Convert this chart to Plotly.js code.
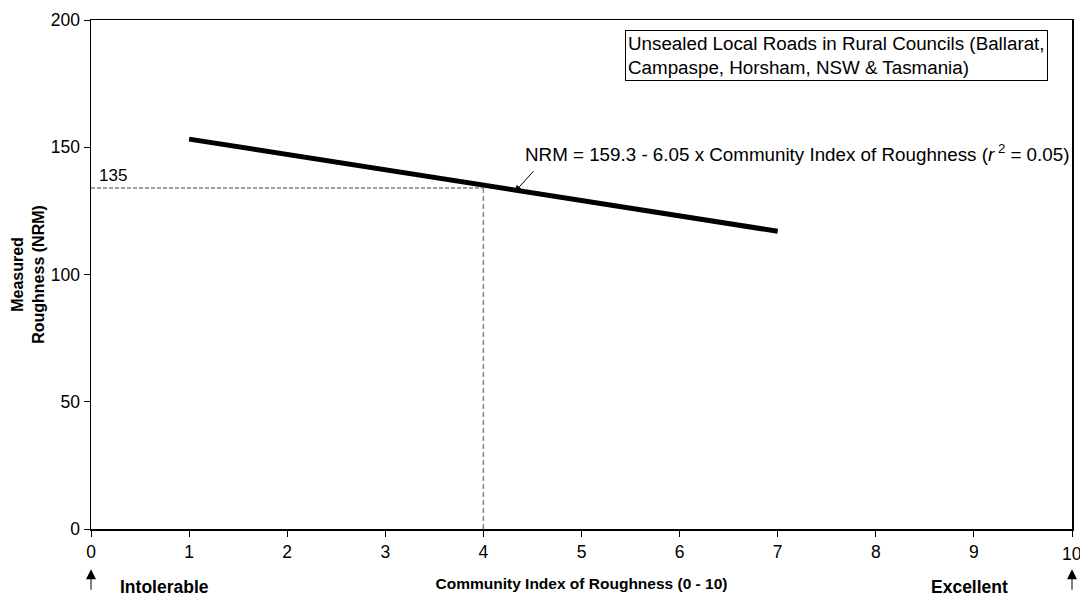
<!DOCTYPE html>
<html>
<head>
<meta charset="utf-8">
<script src="https://cdn.plot.ly/plotly-3.0.1.min.js"></script>
<style>
html,body{margin:0;padding:0;background:#fff;}
#chart{width:1080px;height:597px;}
</style>
</head>
<body>
<div id="chart"></div>
<script>
// Regression line endpoints (Community Index vs Measured Roughness)
const lineX = [1, 7];
const lineY = [153.2, 117.0];

// Reference point read-off
const refX = 4;
const refY = 134;
const refLabel = "135";

// Axis ticks
const xTicks = [0,1,2,3,4,5,6,7,8,9];
const xLastTick = 10;
const yTicks = [0,50,100,150,200];

const eqText = "NRM = 159.3 - 6.05 x Community Index of Roughness (<i>r</i><sup> 2</sup> = 0.05)";
const boxText = "Unsealed Local Roads in Rural Councils (Ballarat,<br>Campaspe, Horsham, NSW &amp; Tasmania)";

const FONT = "Liberation Sans, Arial, sans-serif";

const traces = [{
  x: lineX, y: lineY, type: 'scatter', mode: 'lines',
  line: {color: '#000', width: 5}, hoverinfo: 'skip', showlegend: false
}];

const layout = {
  width: 1080, height: 597,
  margin: {l: 91, r: 8, t: 20, b: 68},
  paper_bgcolor: '#fff', plot_bgcolor: '#fff',
  font: {family: FONT, size: 17, color: '#000'},
  showlegend: false,
  xaxis: {
    range: [0, 10], tickvals: xTicks.concat([xLastTick]), ticktext: xTicks.map(String).concat(['']),
    ticks: 'outside', ticklen: 6, tickwidth: 1, tickcolor: '#000',
    showline: true, linecolor: '#000', linewidth: 1.5, mirror: true,
    showgrid: false, zeroline: false,
    tickfont: {family: FONT, size: 17.5, color: '#000'},
    title: {text: 'Community Index of Roughness (0 - 10)', font: {family: FONT, size: 15.5, color: '#000', weight: 'bold'}, standoff: 17}
  },
  yaxis: {
    range: [0, 200], tickvals: yTicks, ticktext: yTicks.map(String),
    ticks: 'outside', ticklen: 6, tickwidth: 1, tickcolor: '#000',
    showline: true, linecolor: '#000', linewidth: 1.5, mirror: true,
    showgrid: false, zeroline: false,
    tickfont: {family: FONT, size: 17.5, color: '#000'},
    title: {text: 'Measured<br>Roughness (NRM)', font: {family: FONT, size: 16, color: '#000', weight: 'bold'}, standoff: 2}
  },
  shapes: [
    {type: 'line', xref: 'x', yref: 'y', x0: 0, x1: refX, y0: refY, y1: refY,
     line: {color: '#444', width: 1, dash: '4px,2px'}},
    {type: 'line', xref: 'x', yref: 'y', x0: refX, x1: refX, y0: 0, y1: refY,
     line: {color: '#888', width: 1.5, dash: '5px,3px'}}
  ],
  annotations: [
    {xref: 'x', yref: 'y', x: 0.06, y: refY + 0.5, xanchor: 'left', yanchor: 'bottom',
     text: refLabel, showarrow: false, font: {family: FONT, size: 17}},
    {xref: 'x', yref: 'y', x: 4.32, y: 132.5, text: '', showarrow: true,
     ax: 20, ay: -22, arrowhead: 2, arrowsize: 1.3, arrowwidth: 1, arrowcolor: '#000'},
    {xref: 'paper', yref: 'paper', x: 0.44, y: 0.738, xanchor: 'left', yanchor: 'middle',
     text: eqText, showarrow: false, font: {family: FONT, size: 18.8}},
    {xref: 'paper', yref: 'paper', x: 0.544, y: 0.98, xanchor: 'left', yanchor: 'top',
     text: boxText, align: 'left', showarrow: false, font: {family: FONT, size: 18.8},
     bordercolor: '#000', borderwidth: 1, borderpad: 2, bgcolor: '#fff'},
    {xref: 'x', yref: 'paper', x: xLastTick, y: -0.025, xanchor: 'center', yanchor: 'top',
     text: String(xLastTick), showarrow: false, font: {family: FONT, size: 17.5}},
    {xref: 'paper', yref: 'paper', x: 0.075, y: -0.113, xanchor: 'center', yanchor: 'middle',
     text: '<b>Intolerable</b>', showarrow: false, font: {family: FONT, size: 17.5}},
    {xref: 'paper', yref: 'paper', x: 0.896, y: -0.113, xanchor: 'center', yanchor: 'middle',
     text: '<b>Excellent</b>', showarrow: false, font: {family: FONT, size: 17.5}},
    {xref: 'x', yref: 'paper', x: 0, y: -0.079, text: '', showarrow: true,
     ax: 0, ay: 22, arrowhead: 2, arrowsize: 2, arrowwidth: 1, arrowcolor: '#000'},
    {xref: 'x', yref: 'paper', x: 10, y: -0.079, text: '', showarrow: true,
     ax: 0, ay: 22, arrowhead: 2, arrowsize: 2, arrowwidth: 1, arrowcolor: '#000'}
  ]
};

Plotly.newPlot('chart', traces, layout, {displayModeBar: false, staticPlot: true});
</script>
</body>
</html>
